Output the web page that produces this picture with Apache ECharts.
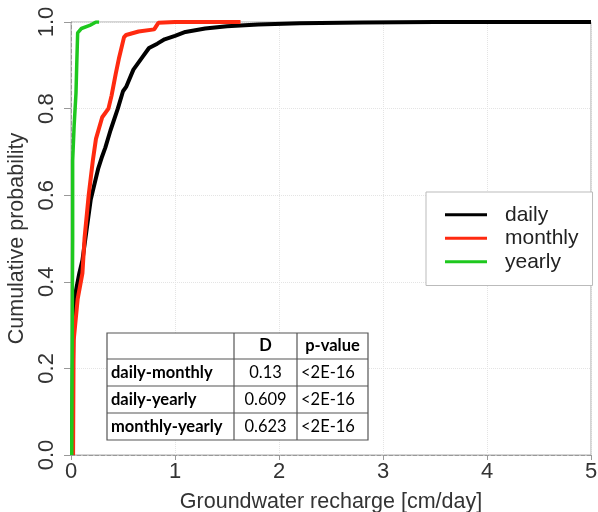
<!DOCTYPE html>
<html>
<head>
<meta charset="utf-8">
<script src="https://cdn.jsdelivr.net/npm/echarts@6/dist/echarts.min.js"></script>
<style>
html,body{margin:0;padding:0;background:#fff;}
#main{width:598px;height:512px;}
</style>
</head>
<body>
<div id="main"></div>
<script>
// ---- data ----
var seriesNames = ['daily', 'monthly', 'yearly'];
var dailyData = [[0.01,0],[0.018,0.2],[0.026,0.33],[0.048,0.38],[0.08,0.42],[0.11,0.45],[0.15,0.52],[0.19,0.59],[0.21,0.61],[0.26,0.66],[0.30,0.69],[0.33,0.71],[0.38,0.75],[0.45,0.80],[0.50,0.84],[0.53,0.85],[0.60,0.89],[0.69,0.92],[0.75,0.94],[0.83,0.95],[0.90,0.96],[1.00,0.968],[1.10,0.977],[1.29,0.985],[1.50,0.99],[1.80,0.994],[2.20,0.997],[2.80,0.999],[3.50,1.0],[5.0,1.0]];
var monthlyData = [[0.02,0],[0.024,0.2],[0.026,0.265],[0.04,0.30],[0.064,0.36],[0.11,0.42],[0.13,0.50],[0.17,0.60],[0.21,0.68],[0.24,0.73],[0.30,0.78],[0.36,0.80],[0.39,0.83],[0.43,0.88],[0.46,0.915],[0.51,0.965],[0.53,0.97],[0.65,0.978],[0.80,0.983],[0.84,0.998],[1.0,1.0],[1.63,1.0]];
var yearlyData = [[0.007,0],[0.012,0.3],[0.016,0.5],[0.016,0.68],[0.03,0.76],[0.048,0.836],[0.055,0.9],[0.064,0.975],[0.1,0.985],[0.18,0.992],[0.24,1.0],[0.27,1.0]];
var xTicks = [0, 1, 2, 3, 4, 5];
var yTicks = [0.0, 0.2, 0.4, 0.6, 0.8, 1.0];
var tableHeader = ['', 'D', 'p-value'];
var tableLabels = ['daily-monthly', 'daily-yearly', 'monthly-yearly'];
var tableD = ['0.13', '0.609', '0.623'];
var tableP = ['<2E-16', '<2E-16', '<2E-16'];

// ---- table graphic ----
var colX = [107, 234, 297, 368];
var rowY = [333, 359, 386, 413, 440];
var tblFont = 'Lato, "Open Sans", sans-serif';
var tableEls = [];
tableEls.push({type:'rect', shape:{x:colX[0], y:rowY[0], width:colX[3]-colX[0], height:rowY[4]-rowY[0]},
  style:{fill:'#fff', stroke:'#555', lineWidth:1.2}, z:50});
for (var r = 1; r < 4; r++) {
  tableEls.push({type:'line', shape:{x1:colX[0], y1:rowY[r], x2:colX[3], y2:rowY[r]}, style:{stroke:'#555', lineWidth:1.2}, z:51});
}
for (var c = 1; c < 3; c++) {
  tableEls.push({type:'line', shape:{x1:colX[c], y1:rowY[0], x2:colX[c], y2:rowY[4]}, style:{stroke:'#555', lineWidth:1.2}, z:51});
}
function cellText(txt, col, row, bold, align) {
  var x = align === 'left' ? colX[col] + 4 : (colX[col] + colX[col+1]) / 2;
  tableEls.push({type:'text', z:52, x:x, y:(rowY[row] + rowY[row+1]) / 2,
    style:{text:txt, fill:'#000', font:(bold ? 'bold ' : '') + '16.5px ' + tblFont,
      textAlign: align === 'left' ? 'left' : 'center', textVerticalAlign:'middle'}});
}
for (var h = 1; h < tableHeader.length; h++) cellText(tableHeader[h], h, 0, true, 'center');
for (var i = 0; i < tableLabels.length; i++) {
  cellText(tableLabels[i], 0, i+1, true, 'left');
  cellText(tableD[i], 1, i+1, false, 'center');
  cellText(tableP[i], 2, i+1, false, 'left');
}

var axisFont = '"Liberation Sans", Arial, sans-serif';
var chart = echarts.init(document.getElementById('main'), null, {renderer:'canvas'});
chart.setOption({
  animation: false,
  backgroundColor: '#fff',
  grid: {left: 71, right: 7, top: 22, bottom: 57, show: true, borderColor: '#aaa', borderWidth: 1,
    containLabel: false, outerBoundsMode: 'none'},
  legend: {
    data: seriesNames,
    orient: 'vertical',
    left: 426, top: 192,
    padding: [11, 14, 12, 19],
    itemGap: 0,
    itemWidth: 42, itemHeight: 3,
    icon: 'rect',
    borderColor: '#bbb', borderWidth: 1,
    backgroundColor: '#fff',
    textStyle: {fontFamily: axisFont, fontSize: 21, color: '#222', lineHeight: 23.5, padding: [0,0,0,13]}
  },
  xAxis: {
    type: 'value', min: 0, max: 5, interval: 1,
    name: 'Groundwater recharge [cm/day]', nameLocation: 'middle', nameGap: 36,
    nameTextStyle: {fontFamily: axisFont, fontSize: 21.5, color: '#333'},
    axisLine: {show: true, onZero: false, lineStyle: {color: '#999', type: 'dashed', width: 1}},
    axisTick: {show: true, length: 5, lineStyle: {color: '#999'}},
    axisLabel: {fontFamily: axisFont, fontSize: 22, color: '#333', margin: 6,
      formatter: function (v) { return xTicks.indexOf(v) >= 0 ? String(v) : ''; }},
    splitLine: {show: true, lineStyle: {color: '#e4e4e4', type: 'dotted'}}
  },
  yAxis: {
    type: 'value', min: 0, max: 1, interval: 0.2,
    name: 'Cumulative probability', nameLocation: 'middle', nameGap: 40,
    nameTextStyle: {fontFamily: axisFont, fontSize: 21.5, color: '#333'},
    axisLine: {show: true, lineStyle: {color: '#999', type: 'dashed', width: 1}},
    axisTick: {show: true, length: 7, lineStyle: {color: '#999'}},
    axisLabel: {fontFamily: axisFont, fontSize: 22, color: '#333', rotate: 90, margin: 13,
      formatter: function (v) { return v.toFixed(1); }},
    splitLine: {show: true, lineStyle: {color: '#e4e4e4', type: 'dotted'}}
  },
  series: [
    {name: seriesNames[0], type: 'line', data: dailyData, showSymbol: false, color: '#000',
      lineStyle: {width: 4, color: '#000'}, z: 3},
    {name: seriesNames[1], type: 'line', data: monthlyData, showSymbol: false, color: '#ff2a10',
      lineStyle: {width: 4, color: '#ff2a10'}, z: 4},
    {name: seriesNames[2], type: 'line', data: yearlyData, showSymbol: false, color: '#1ec81e',
      lineStyle: {width: 3.5, color: '#1ec81e'}, z: 5}
  ],
  graphic: tableEls
});
</script>
</body>
</html>
